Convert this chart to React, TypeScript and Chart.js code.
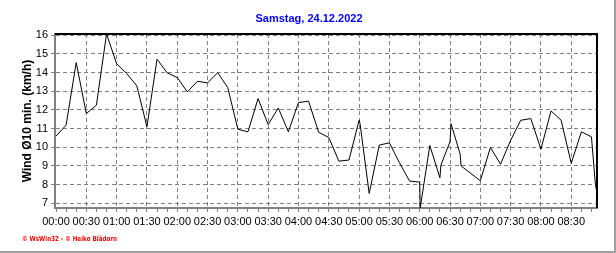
import React, { useEffect, useRef } from 'react';
import { Chart, registerables } from 'chart.js';

Chart.register(...registerables);

const TITLE = 'Samstag, 24.12.2022';
const Y_TITLE = 'Wind Ø10 min. (km/h)';
const CREDIT = '© WsWin32 - © Heiko Blädorn';

// time of day in minutes after 00:00
const minutes = [
  0, 10, 20, 30, 40, 50, 60, 70, 80, 90,
  100, 110, 120, 130, 140, 150, 160, 170, 180, 190,
  200, 210, 220, 230, 240, 250, 260, 270, 280, 290,
  300, 301, 310, 320, 330, 340, 350, 360, 360.5, 370,
  380, 381, 390, 391, 400, 401, 420, 430, 440, 450,
  460, 470, 480, 490, 500, 510, 520, 530, 534, 535.5,
];

// wind speed, 10 min average (km/h)
const wind = [
  10.6, 11.19, 14.54, 11.81, 12.26, 16.07, 14.48, 13.95, 13.29, 11.1,
  14.72, 13.99, 13.74, 12.97, 13.54, 13.45, 14.0, 13.2, 10.97, 10.83,
  12.61, 11.22, 12.11, 10.83, 12.4, 12.47, 10.8, 10.53, 9.26, 9.32,
  11.45, 11.25, 7.53, 10.12, 10.24, 9.17, 8.19, 8.14, 6.75, 10.1,
  8.37, 9.05, 10.3, 11.27, 9.64, 9.0, 8.21, 9.99, 9.1, 10.37,
  11.45, 11.54, 9.9, 11.95, 11.45, 9.14, 10.83, 10.56, 7.95, 7.6,
];

const yTickValues = [7, 8, 9, 10, 11, 12, 13, 14, 15, 16];
const xLabels = [
  '00:00', '00:30', '01:00', '01:30', '02:00', '02:30', '03:00', '03:30', '04:00',
  '04:30', '05:00', '05:30', '06:00', '06:30', '07:00', '07:30', '08:00', '08:30',
];

const X_MIN = -1;
const X_MAX = 535.5;
const Y_MIN = 6.75;
const Y_MAX = 16.07;

const FONT = "'Liberation Sans', Arial, sans-serif";

const decor = {
  id: 'decor',
  afterDraw(chart: any) {
    const { ctx, chartArea: a } = chart;
    ctx.save();
    ctx.strokeStyle = '#000000';
    ctx.lineWidth = 2;
    ctx.beginPath();
    ctx.moveTo(a.left, a.top);
    ctx.lineTo(a.right, a.top);
    ctx.lineTo(a.right, a.bottom);
    ctx.stroke();

    ctx.fillStyle = '#0000ff';
    ctx.font = `bold 11px ${FONT}`;
    ctx.textAlign = 'center';
    ctx.textBaseline = 'middle';
    ctx.fillText(TITLE, 309, 19);

    ctx.fillStyle = '#ff0000';
    ctx.font = "bold 7px 'DejaVu Sans', sans-serif";
    ctx.textAlign = 'left';
    ctx.fillText(CREDIT, 22, 239, 95);

    ctx.fillStyle = '#a0a0a0';
    ctx.fillRect(614, 0, 2, 253);
    ctx.fillRect(0, 251, 616, 2);
    ctx.restore();
  },
};

export default function App() {
  const ref = useRef<HTMLCanvasElement | null>(null);

  useEffect(() => {
    if (!ref.current) return;
    const points = minutes.map((m, i) => ({ x: m, y: wind[i] }));
    const xTicks: number[] = [];
    for (let m = 0; m <= 530; m += 10) xTicks.push(m);

    const chart = new Chart(ref.current, {
      type: 'line',
      data: {
        datasets: [
          {
            data: points,
            borderColor: '#000000',
            borderWidth: 1,
            pointRadius: 0,
            tension: 0,
            fill: false,
          },
        ],
      },
      options: {
        animation: false,
        responsive: false,
        devicePixelRatio: 1,
        layout: { padding: { top: 34, right: 19, bottom: 0, left: 0 } },
        plugins: {
          legend: { display: false },
          title: { display: false },
          tooltip: { enabled: false },
        },
        scales: {
          x: {
            type: 'linear',
            min: X_MIN,
            max: X_MAX,
            afterBuildTicks: (s: any) => {
              s.ticks = xTicks.map((v) => ({ value: v }));
            },
            afterFit: (s: any) => {
              s.height = 45;
            },
            ticks: {
              autoSkip: false,
              maxRotation: 0,
              minRotation: 0,
              padding: 3,
              color: '#000000',
              font: { family: FONT, size: 11 },
              callback: (v: any) => (v % 30 === 0 ? xLabels[v / 30] : ''),
            },
            grid: {
              color: (c: any) =>
                c.tick && c.tick.value % 30 === 0 && c.tick.value !== 0 ? '#808080' : 'rgba(0,0,0,0)',
              tickColor: '#808080',
              tickLength: 4,
              lineWidth: 1,
            },
            border: { color: '#808080', width: 2, dash: [4, 3] },
          },
          y: {
            type: 'linear',
            min: Y_MIN,
            max: Y_MAX,
            afterBuildTicks: (s: any) => {
              s.ticks = yTickValues.map((v) => ({ value: v }));
            },
            afterFit: (s: any) => {
              s.width = 55;
            },
            ticks: {
              padding: 3,
              color: '#000000',
              font: { family: FONT, size: 11 },
              callback: (v: any) => String(v),
            },
            grid: {
              color: '#808080',
              tickColor: '#808080',
              tickLength: 4,
              lineWidth: 1,
            },
            border: { color: '#808080', width: 2, dash: [4, 3] },
            title: {
              display: true,
              text: Y_TITLE,
              color: '#000000',
              font: { family: FONT, size: 12, weight: 'bold' },
              padding: { top: 20, bottom: 0 },
            },
          },
        },
      },
      plugins: [decor],
    } as any);

    return () => chart.destroy();
  }, []);

  return (
    <div style={{ position: 'absolute', left: 0, top: 0, width: 616, height: 253, background: '#ffffff' }}>
      <canvas ref={ref} width={616} height={253} style={{ width: 616, height: 253, display: 'block' }} />
    </div>
  );
}
